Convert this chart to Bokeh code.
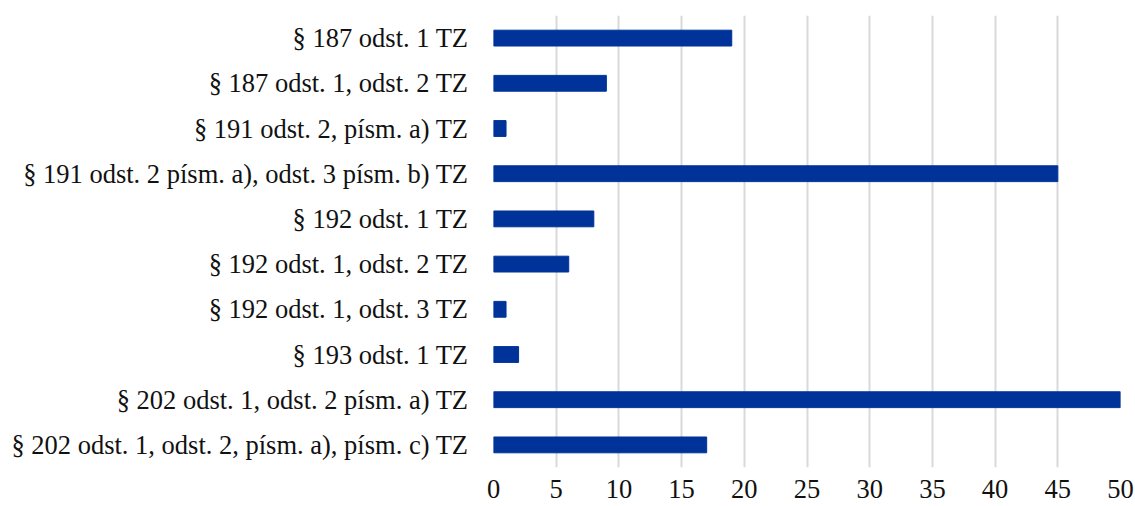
from bokeh.plotting import figure
from bokeh.embed import file_html
from bokeh.resources import INLINE
from bokeh.models import ColumnDataSource, FixedTicker, Range1d

categories = [
    "§ 187 odst. 1 TZ",
    "§ 187 odst. 1, odst. 2 TZ",
    "§ 191 odst. 2, písm. a) TZ",
    "§ 191 odst. 2 písm. a), odst. 3 písm. b) TZ",
    "§ 192 odst. 1 TZ",
    "§ 192 odst. 1, odst. 2 TZ",
    "§ 192 odst. 1, odst. 3 TZ",
    "§ 193 odst. 1 TZ",
    "§ 202 odst. 1, odst. 2 písm. a) TZ",
    "§ 202 odst. 1, odst. 2, písm. a), písm. c) TZ",
]
values = [19, 9, 1, 45, 8, 6, 1, 2, 50, 17]
x_ticks = [0, 5, 10, 15, 20, 25, 30, 35, 40, 45, 50]

src = ColumnDataSource(dict(cat=categories, val=values))

p = figure(
    y_range=list(reversed(categories)),
    x_range=Range1d(0, 50),
    width=1135, height=506,
    output_backend="svg", toolbar_location=None,
    min_border_left=493, min_border_top=15, min_border_right=15, min_border_bottom=39,
)
p.hbar(y="cat", right="val", left=0, height=0.35, source=src,
       fill_color="#003399", line_color="#003399")

p.outline_line_color = None
p.background_fill_color = "white"
p.border_fill_color = "white"

p.xgrid.ticker = FixedTicker(ticks=x_ticks)
p.xgrid.grid_line_color = "#d9d9d9"
p.xgrid.grid_line_width = 2
p.ygrid.grid_line_color = None

p.xaxis.ticker = FixedTicker(ticks=x_ticks)
for ax in (p.xaxis, p.yaxis):
    ax.axis_line_color = None
    ax.major_tick_line_color = None
    ax.minor_tick_line_color = None
    ax.major_label_text_font = "Liberation Serif"
    ax.major_label_text_font_size = "26.5px"
    ax.major_label_text_color = "#111111"
p.xaxis.major_label_standoff = 6
p.yaxis.major_label_standoff = 19

open("out.html", "w").write(file_html(p, INLINE))
